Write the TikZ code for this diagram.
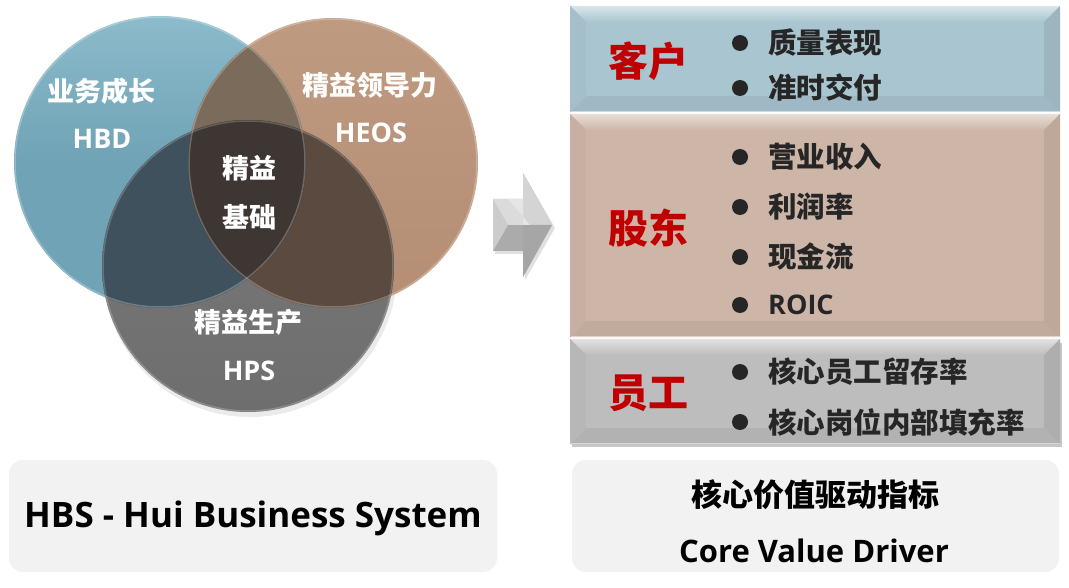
\documentclass[tikz,border=0pt]{standalone}
\usepackage{fontspec}
\newfontfamily\cjk{Noto Sans CJK SC}
\newfontfamily\lat{Open Sans}
\definecolor{cblue}{HTML}{6FA3B5}
\definecolor{cbluetop}{HTML}{8CBBCB}
\definecolor{cbrown}{HTML}{B58E74}
\definecolor{cbrowntop}{HTML}{BE9A80}
\definecolor{cgray}{HTML}{7A7A7A}
\definecolor{cgraybot}{HTML}{6E6E6E}
\definecolor{cbb}{HTML}{7A6B5A}
\definecolor{cbg}{HTML}{3F515C}
\definecolor{crg}{HTML}{5B4A40}
\definecolor{ccenter}{HTML}{3E3632}
\definecolor{pblue}{HTML}{A9C5D0}
\definecolor{pbrown}{HTML}{CDB6A7}
\definecolor{pgray}{HTML}{BDBDBD}
\definecolor{redtxt}{HTML}{C00000}
\definecolor{darktxt}{HTML}{262626}
\definecolor{boxfill}{HTML}{F2F2F2}
\newcommand\bevpanel[5]{%
  \fill[#5] (#1,#2) rectangle (#3,#4);
  \shade[top color=#5!45!white, bottom color=#5] (#1,#2) -- (#3,#2) -- (#3-16,#2+16) -- (#1+16,#2+16) -- cycle;
  \fill[#5!94!black] (#1,#4) -- (#3,#4) -- (#3-16,#4-16) -- (#1+16,#4-16) -- cycle;
  \fill[#5!97!black] (#1,#2) -- (#1+16,#2+16) -- (#1+16,#4-16) -- (#1,#4) -- cycle;
  \fill[#5!92!black] (#3,#2) -- (#3-16,#2+16) -- (#3-16,#4-16) -- (#3,#4) -- cycle;
  \draw[#5!60!white, line width=1pt] (#1+0.5,#4-0.5) -- (#3-0.5,#4-0.5);
}
\begin{document}
\begin{tikzpicture}[x=1pt,y=-1pt,
  clbl/.style={text=white, font=\cjk\bfseries\fontsize{27}{30}\selectfont, inner sep=0pt},
  llbl/.style={text=white, font=\lat\bfseries\fontsize{27}{30}\selectfont, inner sep=0pt},
  redlbl/.style={text=redtxt, font=\cjk\bfseries\fontsize{40}{44}\selectfont, inner sep=0pt},
  item/.style={text=darktxt, font=\cjk\bfseries\fontsize{28.5}{32}\selectfont, inner sep=0pt, anchor=west},
  litem/.style={text=darktxt, font=\lat\bfseries\fontsize{27}{30}\selectfont, inner sep=0pt, anchor=west},
  bul/.style={circle, fill=darktxt, minimum size=16pt, inner sep=0pt},
  capbox/.style={fill=boxfill, rounded corners=14pt}]
\useasboundingbox[fill=white] (0,0) rectangle (1069,588);

% ---- Venn circles ----
\coordinate (cb) at (160,162);
\coordinate (cr) at (333,163);
\coordinate (cg) at (248,266);
\fill[black!8] (250,270) circle (147);
\shade[top color=cbluetop, bottom color=cblue, middle color=cblue] (cb) circle (146);
\shade[top color=cbrowntop, bottom color=cbrown] (cr) circle (145);
\shade[top color=cgray, bottom color=cgraybot] (cg) circle (146);
\begin{scope}
  \clip (cb) circle (146);
  \fill[cbb] (cr) circle (145);
  \fill[cbg] (cg) circle (146);
\end{scope}
\begin{scope}
  \clip (cr) circle (145);
  \fill[crg] (cg) circle (146);
\end{scope}
\begin{scope}
  \clip (cb) circle (146);
  \clip (cr) circle (145);
  \fill[ccenter] (cg) circle (146);
\end{scope}
\draw[white, opacity=0.25, line width=1.5pt] (cb) circle (145);
\draw[white, opacity=0.25, line width=1.5pt] (cr) circle (144);
\draw[white, opacity=0.2, line width=1.5pt] (cg) circle (145);

\node[clbl] (ywcz) at (101,91) {业务成长};
\node[llbl] (hbd) at (102,139) {HBD};
\node[clbl] (jyld) at (370,85) {精益领导力};
\node[llbl] (heos) at (371,133) {HEOS};
\node[clbl] (jy) at (249,168) {精益};
\node[clbl] (jc) at (249,217) {基础};
\node[clbl] (jysc) at (248,322) {精益生产};
\node[llbl] (hps) at (249,371) {HPS};

% ---- arrow ----
\fill[black!12] (495,202) -- (525,202) -- (525,176) -- (555,228) -- (525,280) -- (525,254) -- (495,254) -- cycle;
\fill[black!25] (493,199) -- (523,199) -- (523,173) -- (552,225) -- (523,277) -- (523,251) -- (493,251) -- cycle;
\fill[black!14] (493,199) -- (523,199) -- (523,225) -- (493,225) -- cycle;
\fill[black!33] (493,225) -- (523,225) -- (523,251) -- (493,251) -- cycle;
\fill[black!20] (493,199) -- (508,225) -- (493,251) -- cycle;
\fill[black!17] (523,173) -- (552,225) -- (523,225) -- cycle;
\fill[black!35] (523,225) -- (552,225) -- (523,277) -- cycle;
\fill[black!10] (508,199) -- (523,199) -- (523,225) -- (530,225) -- cycle;

% ---- panels ----
\fill[black!22] (572,343) rectangle (1062,447);
\bevpanel{570}{6}{1060}{112}{pblue}
\bevpanel{570}{114}{1060}{337}{pbrown}
\bevpanel{570}{339}{1060}{444}{pgray}

\node[redlbl] (kh) at (648,61) {客户};
\node[redlbl] (gd) at (648,228) {股东};
\node[redlbl] (yg) at (648,393) {员工};

\node[bul] (b1) at (740,43) {};
\node[item] (i1) at (768,43) {质量表现};
\node[bul] (b2) at (740,88) {};
\node[item] (i2) at (768,88) {准时交付};
\node[bul] (b3) at (740,157) {};
\node[item] (i3) at (768,157) {营业收入};
\node[bul] (b4) at (740,207) {};
\node[item] (i4) at (768,207) {利润率};
\node[bul] (b5) at (740,257) {};
\node[item] (i5) at (768,257) {现金流};
\node[bul] (b6) at (740,305) {};
\node[litem] (i6) at (768,305) {ROIC};
\node[bul] (b7) at (740,372) {};
\node[item] (i7) at (768,372) {核心员工留存率};
\node[bul] (b8) at (740,422) {};
\node[item] (i8) at (768,422) {核心岗位内部填充率};

% ---- caption boxes ----
\fill[capbox] (9,460) rectangle (497,572);
\fill[capbox] (572,460) rectangle (1059,572);
\node[font=\lat\bfseries\fontsize{35}{40}\selectfont, inner sep=0pt, anchor=base] (hbs) at (253,527) {HBS - Hui Business System};
\node[font=\cjk\bfseries\fontsize{31}{34}\selectfont, inner sep=0pt] (hxjz) at (815,495) {核心价值驱动指标};
\node[font=\lat\bfseries\fontsize{31}{34}\selectfont, inner sep=0pt, anchor=base] (cvd) at (814,562) {Core Value Driver};
\end{tikzpicture}
\end{document}
